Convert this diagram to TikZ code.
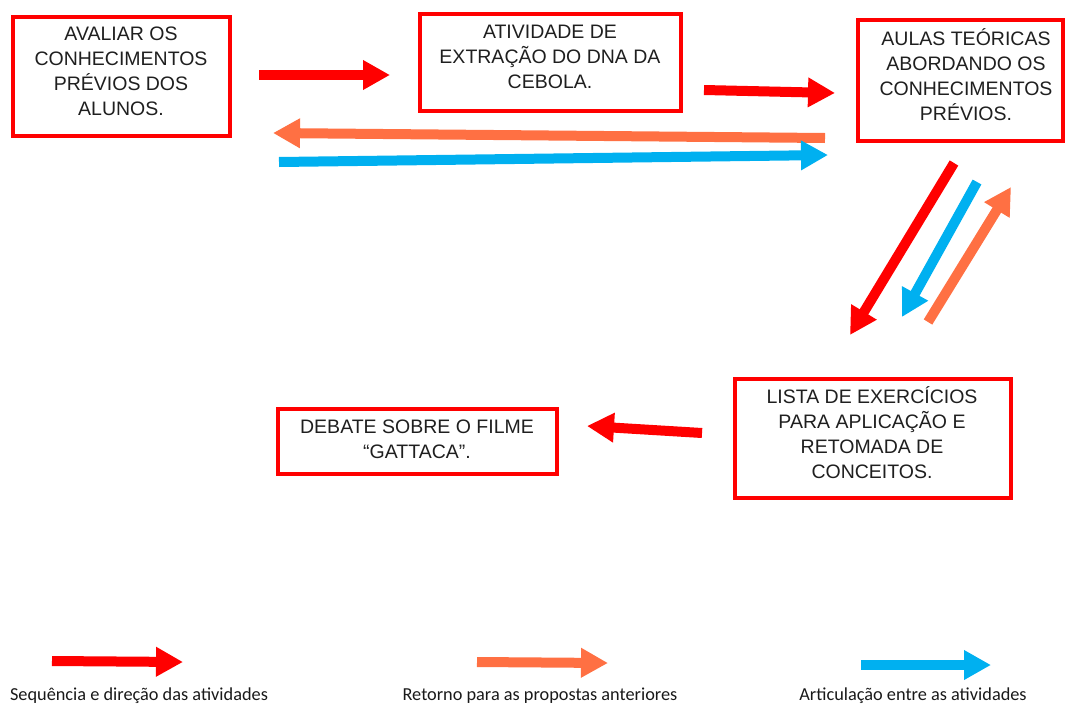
\documentclass[tikz,border=0pt]{standalone}
\usepackage{fontspec}
\setmainfont{Liberation Sans}
\newfontfamily\legendfont{Carlito}
\usetikzlibrary{arrows.meta}
\definecolor{seqred}{RGB}{255,0,0}
\definecolor{backorange}{RGB}{255,112,67}
\definecolor{linkblue}{RGB}{0,176,240}
\begin{document}
\begin{tikzpicture}[x=1pt,y=-1pt,
  box/.style={draw=seqred, line width=4pt, fill=white, inner sep=0pt},
  boxtext/.style={align=center, inner sep=0pt, font=\fontsize{19.5}{25}\selectfont, text=black!88},
  blockarrow/.style={line width=10pt, -{Triangle[length=27pt,width=28pt]}},
  seqarrow/.style={blockarrow, draw=seqred, fill=seqred},
  backarrow/.style={blockarrow, draw=backorange, fill=backorange},
  linkarrow/.style={blockarrow, draw=linkblue, fill=linkblue},
  legendtext/.style={inner sep=0pt, font=\legendfont\fontsize{18.3}{21}\selectfont, text=black!90}]
\useasboundingbox (0,0) rectangle (1068,707);

% activity boxes
\node[box, minimum width=217, minimum height=119] (b1) at (121.5,76.5) {};
\node[boxtext] (t1) at (121,71) {AVALIAR OS\\CONHECIMENTOS\\PRÉVIOS DOS\\ALUNOS.};

\node[box, minimum width=261, minimum height=97] (b2) at (550.5,62.5) {};
\node[boxtext] (t2) at (550,57) {ATIVIDADE DE\\EXTRAÇÃO DO DNA DA\\CEBOLA.};

\node[box, minimum width=205, minimum height=121] (b3) at (960.5,80.5) {};
\node[boxtext] (t3) at (966,75) {AULAS TEÓRICAS\\ABORDANDO OS\\CONHECIMENTOS\\PRÉVIOS.};

\node[box, minimum width=279, minimum height=65] (b4) at (417.5,441.5) {};
\node[boxtext] (t4) at (417,439) {DEBATE SOBRE O FILME\\“GATTACA”.};

\node[box, minimum width=276, minimum height=119] (b5) at (873,438.5) {};
\node[boxtext] (t5) at (872,433) {LISTA DE EXERCÍCIOS\\PARA APLICAÇÃO E\\RETOMADA DE\\CONCEITOS.};

% connector end points
\coordinate (a1s) at (259,75);   \coordinate (a1e) at (390,75);
\coordinate (a2s) at (704,90);   \coordinate (a2e) at (835,93);
\coordinate (a3s) at (825,138);  \coordinate (a3e) at (273,133);
\coordinate (a4s) at (279,162);  \coordinate (a4e) at (828,155);
\coordinate (a5s) at (954,163);  \coordinate (a5e) at (850,335);
\coordinate (a6s) at (977,182);  \coordinate (a6e) at (902,317);
\coordinate (a7s) at (928,322);  \coordinate (a7e) at (1011,187);
\coordinate (a8s) at (702,433);  \coordinate (a8e) at (587,426);

\draw[seqarrow]  (a1s) -- (a1e);
\draw[seqarrow]  (a2s) -- (a2e);
\draw[backarrow] (a3s) -- (a3e);
\draw[linkarrow] (a4s) -- (a4e);
\draw[seqarrow]  (a5s) -- (a5e);
\draw[linkarrow] (a6s) -- (a6e);
\draw[backarrow] (a7s) -- (a7e);
\draw[seqarrow]  (a8s) -- (a8e);

% legend
\coordinate (l1s) at (52,661);  \coordinate (l1e) at (183,662);
\coordinate (l2s) at (477,662); \coordinate (l2e) at (608,663);
\coordinate (l3s) at (861,665); \coordinate (l3e) at (991,665);
\draw[seqarrow]  (l1s) -- (l1e);
\draw[backarrow] (l2s) -- (l2e);
\draw[linkarrow] (l3s) -- (l3e);
\node[legendtext] (k1) at (139,696) {Sequência e direção das atividades};
\node[legendtext] (k2) at (540,696) {Retorno para as propostas anteriores};
\node[legendtext] (k3) at (913,696) {Articulação entre as atividades};
\end{tikzpicture}
\end{document}
